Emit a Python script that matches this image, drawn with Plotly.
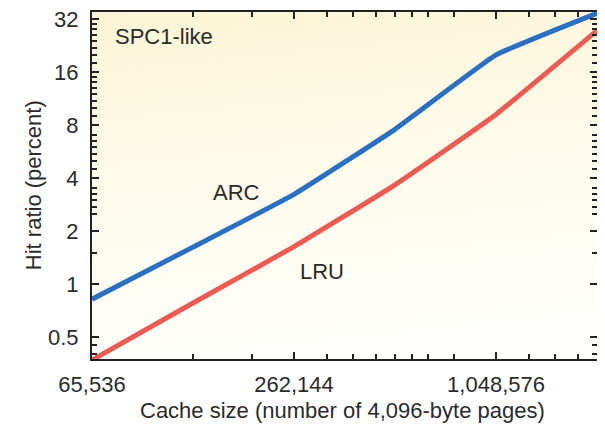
import base64
import plotly.graph_objects as go

# ---- data ----
cache_sizes = [65536, 131072, 262144, 524288, 1048576, 2097152]
arc_hit = [0.82, 1.62, 3.23, 7.56, 20.0, 34.5]
lru_hit = [0.37, 0.78, 1.63, 3.66, 9.19, 27.5]

x_tick_vals = [65536, 262144, 1048576]
x_tick_text = ["65,536", "262,144", "1,048,576"]
y_tick_vals = [0.5, 1, 2, 4, 8, 16, 32]
y_tick_text = ["0.5", "1", "2", "4", "8", "16", "32"]

x_minor = [65536 * k for k in [2, 3, 5, 6, 7, 8, 9, 10, 12, 20, 24, 28]]
y_minor = [0.4, 0.45, 1.5, 2.5, 2.75, 3, 3.25, 3.5,
           4.5, 5, 5.5, 6, 6.5, 7,
           9, 10, 11, 12, 13, 14, 15,
           18, 20, 22, 24, 26, 28, 30]

XRANGE = [4.816480, 6.321560]
YRANGE = [-0.4260, 1.5449]

BLUE = "rgb(42,112,194)"
RED = "rgb(236,90,82)"
TXT = "#2b2b2b"
AX = "#222222"
FONT = "Liberation Sans, Arial, Helvetica, sans-serif"

svg = (
    '<svg xmlns="http://www.w3.org/2000/svg" width="100" height="100" preserveAspectRatio="none">'
    '<defs><linearGradient id="g" x1="0.1" y1="0" x2="0.25" y2="1">'
    '<stop offset="0" stop-color="#fbf5d6"/>'
    '<stop offset="0.5" stop-color="#fefbeb"/>'
    '<stop offset="1" stop-color="#fffffb"/>'
    '</linearGradient></defs>'
    '<rect width="100" height="100" fill="url(#g)"/></svg>'
)
bg_uri = "data:image/svg+xml;base64," + base64.b64encode(svg.encode()).decode()

fig = go.Figure()
fig.add_trace(go.Scatter(x=cache_sizes, y=lru_hit, mode="lines", name="LRU",
                         line=dict(color=RED, width=5, shape="spline", smoothing=0.3),
                         showlegend=False))
fig.add_trace(go.Scatter(x=cache_sizes, y=arc_hit, mode="lines", name="ARC",
                         line=dict(color=BLUE, width=5, shape="spline", smoothing=0.3),
                         showlegend=False))
# invisible trace to carry the mirrored tick axes (top / right)
fig.add_trace(go.Scatter(x=[cache_sizes[0]], y=[lru_hit[0]], xaxis="x2", yaxis="y2",
                         mode="markers", marker=dict(opacity=0), hoverinfo="skip",
                         showlegend=False))

tick_font = dict(family=FONT, size=22, color=TXT)
minor_x = dict(tickmode="array", tickvals=x_minor, ticks="inside", ticklen=5,
               tickwidth=2, tickcolor=AX, showgrid=False)
minor_y = dict(tickmode="array", tickvals=y_minor, ticks="inside", ticklen=5,
               tickwidth=2, tickcolor=AX, showgrid=False)

fig.update_layout(
    xaxis=dict(type="log", range=XRANGE, automargin=False,
               showline=True, linecolor=AX, linewidth=2, mirror=True,
               ticks="inside", ticklen=7, tickwidth=2, tickcolor=AX,
               showgrid=False, zeroline=False,
               tickmode="array", tickvals=x_tick_vals, ticktext=x_tick_text,
               tickfont=tick_font, ticklabelstandoff=5, ticklabeloverflow="allow",
               minor=minor_x),
    yaxis=dict(type="log", range=YRANGE, automargin=False,
               showline=True, linecolor=AX, linewidth=2, mirror=True,
               ticks="inside", ticklen=7, tickwidth=2, tickcolor=AX,
               showgrid=False, zeroline=False,
               tickmode="array", tickvals=y_tick_vals, ticktext=y_tick_text,
               tickfont=tick_font, ticklabelstandoff=7, ticklabeloverflow="allow",
               minor=minor_y),
    xaxis2=dict(type="log", range=XRANGE, overlaying="x", side="top",
                automargin=False, showline=False, showgrid=False, zeroline=False,
                ticks="inside", ticklen=7, tickwidth=2, tickcolor=AX,
                tickmode="array", tickvals=x_tick_vals, showticklabels=False,
                minor=minor_x),
    yaxis2=dict(type="log", range=YRANGE, overlaying="y", side="right",
                automargin=False, showline=False, showgrid=False, zeroline=False,
                ticks="inside", ticklen=7, tickwidth=2, tickcolor=AX,
                tickmode="array", tickvals=y_tick_vals, showticklabels=False,
                minor=minor_y),
)

ann_font = dict(family=FONT, size=22, color=TXT)
fig.add_annotation(x=0.0416, y=0.928, xref="paper", yref="paper", text="SPC1-like",
                   showarrow=False, xanchor="left", yanchor="middle", font=ann_font)
fig.add_annotation(x=0.286, y=0.481, xref="paper", yref="paper", text="ARC",
                   showarrow=False, xanchor="center", yanchor="middle", font=ann_font)
fig.add_annotation(x=0.455, y=0.251, xref="paper", yref="paper", text="LRU",
                   showarrow=False, xanchor="center", yanchor="middle", font=ann_font)
# axis titles
fig.add_annotation(x=0.497, y=-0.147, xref="paper", yref="paper",
                   text="Cache size (number of 4,096-byte pages)",
                   showarrow=False, xanchor="center", yanchor="middle", font=ann_font)
fig.add_annotation(x=-0.1168, y=0.501, xref="paper", yref="paper",
                   text="Hit ratio (percent)", textangle=-90,
                   showarrow=False, xanchor="center", yanchor="middle", font=ann_font)

fig.add_layout_image(dict(source=bg_uri, xref="paper", yref="paper", x=0, y=1,
                          sizex=1, sizey=1, sizing="stretch", layer="below",
                          xanchor="left", yanchor="top"))

# the page adds an 8px body margin, so the figure is offset by 8px
fig.update_layout(
    width=597, height=417,
    margin=dict(l=84, r=8, t=4, b=66),
    paper_bgcolor="white", plot_bgcolor="rgba(0,0,0,0)",
    font=dict(family=FONT, color=TXT),
)

fig.write_html("out.html")
